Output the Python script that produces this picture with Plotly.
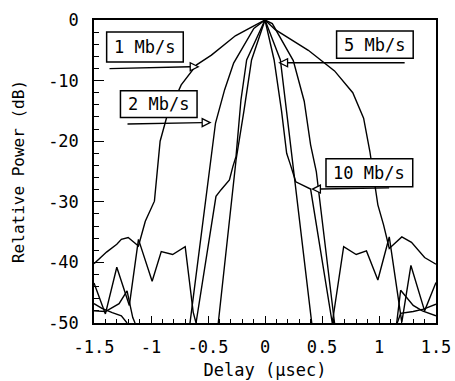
import plotly.graph_objects as go

# ---------------- data ----------------
x_tick_vals = [-1.5, -1, -0.5, 0, 0.5, 1, 1.5]
x_tick_text = ["-1.5", "-1", "-0.5", "0", "0.5", "1", "1.5"]
y_tick_vals = [0, -10, -20, -30, -40, -50]
y_tick_text = ["0", "-10", "-20", "-30", "-40", "-50"]

series_names = ["1 Mb/s", "2 Mb/s", "5 Mb/s", "10 Mb/s"]

delay_1 = [-1.50, -1.39, -1.30, -1.26, -1.20, -1.11, -1.05, -0.97, -0.92, -0.86, -0.735, -0.60,
           -0.47, -0.26, -0.11, 0.0, 0.09, 0.38, 0.61, 0.77, 0.865, 0.92, 0.99, 1.04, 1.09,
           1.20, 1.285, 1.40, 1.50]
power_1 = [-40.2, -38.3, -37.0, -36.2, -35.9, -37.3, -33.2, -29.9, -20.0, -15.9, -10.7, -7.4,
           -5.8, -2.6, -1.1, 0.0, -1.6, -5.0, -8.4, -12.0, -16.2, -21.7, -30.5, -33.8, -37.7,
           -35.8, -36.7, -39.2, -40.3]

delay_2 = [-1.50, -1.43, -1.34, -1.26, -1.21, -0.90, -0.658, -0.489, -0.434, -0.354, -0.275,
           -0.098, 0.0, 0.064, 0.248, 0.344, 0.40, 0.45, 0.61, 0.90, 1.16, 1.19, 1.30, 1.39, 1.50]
power_2 = [-46.8, -47.6, -48.3, -48.8, -50.0, None, -50.0, -25.1, -17.0, -11.5, -7.1,
           -1.4, 0.0, -0.6, -6.7, -13.4, -20.6, -25.0, -50.0, None, -50.0, -48.4, -48.1, -47.7, -46.9]

delay_5 = [-1.50, -1.40, -1.28, -1.21, -1.16, -1.14, -0.80, -0.41, -0.292, -0.254, -0.184, -0.118,
           0.0, 0.135, 0.19, 0.244, 0.41, 0.80, 1.155, 1.19, 1.30, 1.38, 1.50]
power_5 = [-48.0, -48.1, -46.8, -44.7, -49.1, -50.0, None, -50.0, -29.1, -23.1, -14.9, -6.6,
           0.0, -6.6, -15.2, -23.7, -50.0, None, -50.0, -44.6, -47.1, -48.0, -48.8]

delay_10 = [-1.50, -1.40, -1.30, -1.19, -1.11, -0.99, -0.91, -0.81, -0.70, -0.63, -0.605, -0.43,
            -0.385, -0.312, -0.282, -0.254, -0.211, -0.161, 0.0, 0.08, 0.145, 0.19, 0.22, 0.27,
            0.40, 0.59, 0.69, 0.80, 0.89, 0.99, 1.09, 1.20, 1.28, 1.40, 1.50]
power_10 = [-43.4, -48.5, -40.8, -47.1, -36.2, -43.1, -38.2, -38.7, -37.4, -48.2, -50.0, -29.1,
            -28.0, -26.4, -24.2, -22.5, -13.2, -6.6, 0.0, -6.6, -15.0, -22.0, -23.7, -26.7,
            -27.9, -50.0, -37.4, -38.7, -38.1, -42.9, -35.8, -49.9, -40.5, -48.0, -43.3]

# ---------------- figure ----------------
FONT = "DejaVu Sans Mono"
fig = go.Figure()
for name, xs, ys in zip(series_names,
                        [delay_1, delay_2, delay_5, delay_10],
                        [power_1, power_2, power_5, power_10]):
    fig.add_trace(go.Scatter(x=xs, y=ys, mode="lines", name=name,
                             line=dict(color="black", width=1.4),
                             connectgaps=False, showlegend=False, hoverinfo="skip"))

# label boxes: (text, x0, x1, y0, y1)
boxes = [
    ("1 Mb/s", -1.389, -0.717, -1.98, -6.93),
    ("2 Mb/s", -1.268, -0.596, -11.68, -16.09),
    ("5 Mb/s", 0.628, 1.30, -1.8, -6.3),
    ("10 Mb/s", 0.535, 1.296, -22.9, -27.5),
]
# arrows: (x_start, y_start, x_tip, y_tip, direction)
arrows = [
    (-1.364, -8.02, -0.586, -7.72, 1),
    (-1.206, -17.15, -0.481, -16.93, 1),
    (1.225, -7.05, 0.128, -7.05, -1),
    (1.089, -27.7, 0.416, -27.9, -1),
]

shapes = []
annotations = []
for text, x0, x1, y0, y1 in boxes:
    shapes.append(dict(type="rect", xref="x", yref="y", x0=x0, x1=x1, y0=y0, y1=y1,
                       line=dict(color="black", width=1.5), fillcolor="white", layer="above"))
    annotations.append(dict(x=(x0 + x1) / 2, y=(y0 + y1) / 2, xref="x", yref="y", text=text,
                            showarrow=False, font=dict(family=FONT, size=17, color="black")))

L = 0.07   # head length in x units
H = 0.66   # head half height in dB
for xs, ys, xt, yt, d in arrows:
    xb = xt - d * L
    shapes.append(dict(type="line", xref="x", yref="y", x0=xs, y0=ys, x1=xb, y1=yt,
                       line=dict(color="black", width=1.4), layer="above"))
    path = f"M {xt},{yt} L {xb},{yt + H} L {xb},{yt - H} Z"
    shapes.append(dict(type="path", xref="x", yref="y", path=path,
                       line=dict(color="black", width=1.3), fillcolor="white", layer="above"))

fig.update_layout(
    width=455, height=381, autosize=False,
    margin=dict(l=94, r=19, t=20, b=58),
    paper_bgcolor="white", plot_bgcolor="white",
    font=dict(family=FONT, size=16, color="black"),
    shapes=shapes, annotations=annotations,
)
fig.update_xaxes(
    automargin=False,
    range=[-1.5, 1.5], tickmode="array", tickvals=x_tick_vals, ticktext=x_tick_text,
    ticks="inside", ticklen=7, tickwidth=1.3, tickcolor="black",
    minor=dict(dtick=0.1, tick0=0, ticks="inside", ticklen=4, tickwidth=1.2, tickcolor="black"),
    showline=True, linecolor="black", linewidth=1.5, mirror=True,
    showgrid=False, zeroline=False, ticklabelstandoff=8,
    tickfont=dict(family=FONT, size=17, color="black"),
    title=dict(text="Delay (\u03bcsec)", font=dict(family=FONT, size=17, color="black"), standoff=8),
)
fig.update_yaxes(
    automargin=False,
    range=[-50, 0], tickmode="array", tickvals=y_tick_vals, ticktext=y_tick_text,
    ticks="inside", ticklen=10, tickwidth=1.3, tickcolor="black",
    minor=dict(dtick=2, tick0=0, ticks="inside", ticklen=5, tickwidth=1.2, tickcolor="black"),
    showline=True, linecolor="black", linewidth=1.5, mirror=True,
    showgrid=False, zeroline=False, ticklabelstandoff=10,
    tickfont=dict(family=FONT, size=17, color="black"),
    title=dict(text="Relative Power (dB)", font=dict(family=FONT, size=16, color="black"), standoff=20),
)

fig.write_html("out.html", config={"displayModeBar": False})
